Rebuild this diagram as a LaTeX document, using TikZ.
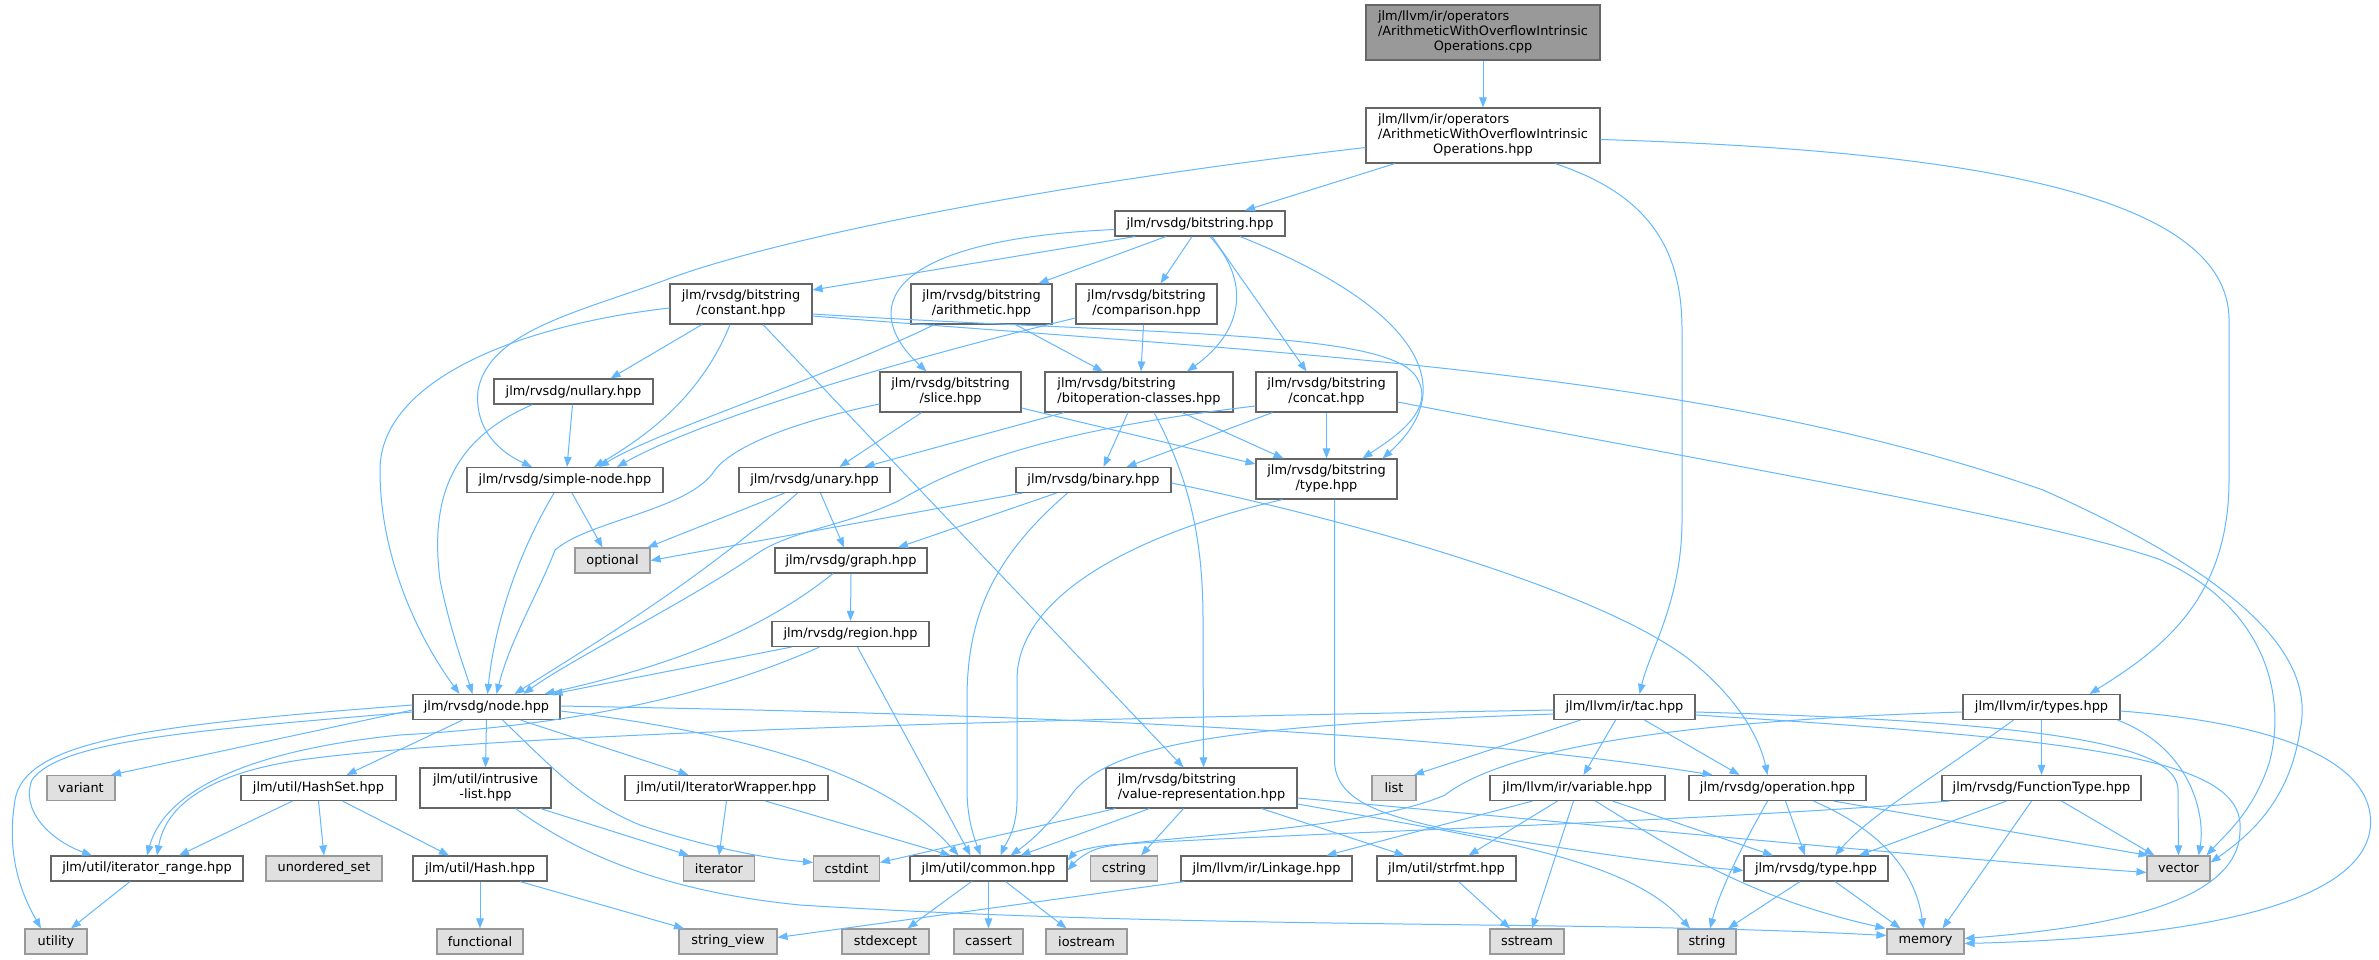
\documentclass[tikz,border=0pt]{standalone}
\usepackage{fontspec}
\setmainfont{DejaVu Sans}
\usetikzlibrary{arrows.meta}
\definecolor{edgec}{HTML}{63B8FF}
\definecolor{bordc}{HTML}{666666}
\definecolor{sysb}{HTML}{999999}
\definecolor{sysf}{HTML}{E0E0E0}
\definecolor{rootf}{HTML}{999999}
\newcommand{\twol}[2]{\begin{tabular}{@{}l@{}}#1\\\multicolumn{1}{@{}c@{}}{#2}\end{tabular}}
\newcommand{\threel}[3]{\begin{tabular}{@{}l@{}}#1\\#2\\\multicolumn{1}{@{}c@{}}{#3}\end{tabular}}
\begin{document}
\begin{tikzpicture}[x=1pt,y=-1pt,
 filebox/.style={draw=bordc, fill=white, line width=1.1pt, inner sep=0pt, font=\fontsize{12.9}{15}\selectfont, text=black, minimum height=25pt},
 sysbox/.style={filebox, draw=sysb, fill=sysf},
 rootbox/.style={filebox, fill=rootf},
 edge/.style={draw=edgec, line width=1.0pt, -{Triangle[length=10pt,width=7.5pt]}}]
\useasboundingbox (0,0) rectangle (2379,960);
\fill[white] (0,0) rectangle (2379,960);
% nodes
\node[rootbox, minimum width=234pt, minimum height=55pt] (cpp) at (1483,32.5) {\threel{jlm/llvm/ir/operators}{/ArithmeticWithOverflowIntrinsic}{Operations.cpp}};
\node[filebox, minimum width=234pt, minimum height=55pt] (hpp) at (1483,135.5) {\threel{jlm/llvm/ir/operators}{/ArithmeticWithOverflowIntrinsic}{Operations.hpp}};
\node[filebox, minimum width=170pt] (bits) at (1200,223.5) {jlm/rvsdg/bitstring.hpp};
\node[filebox, minimum width=142pt, minimum height=40pt] (bconst) at (741,304) {\twol{jlm/rvsdg/bitstring}{/constant.hpp}};
\node[filebox, minimum width=141pt, minimum height=40pt] (barith) at (981.5,304) {\twol{jlm/rvsdg/bitstring}{/arithmetic.hpp}};
\node[filebox, minimum width=141pt, minimum height=40pt] (bcomp) at (1146.5,304) {\twol{jlm/rvsdg/bitstring}{/comparison.hpp}};
\node[filebox, minimum width=141pt, minimum height=40pt] (bslice) at (950.5,392) {\twol{jlm/rvsdg/bitstring}{/slice.hpp}};
\node[filebox, minimum width=188pt, minimum height=40pt] (bitop) at (1139,392) {\twol{jlm/rvsdg/bitstring}{/bitoperation-classes.hpp}};
\node[filebox, minimum width=141pt, minimum height=40pt] (bconcat) at (1326.5,392) {\twol{jlm/rvsdg/bitstring}{/concat.hpp}};
\node[filebox, minimum width=159pt] (nullary) at (573.5,391.5) {jlm/rvsdg/nullary.hpp};
\node[filebox, minimum width=196pt] (simple) at (565,480) {jlm/rvsdg/simple-node.hpp};
\node[filebox, minimum width=151pt] (unary) at (814.5,480) {jlm/rvsdg/unary.hpp};
\node[filebox, minimum width=155pt] (binary) at (1093.5,480) {jlm/rvsdg/binary.hpp};
\node[filebox, minimum width=141pt, minimum height=40pt] (btype) at (1326.5,479) {\twol{jlm/rvsdg/bitstring}{/type.hpp}};
\node[sysbox, minimum width=75pt] (optional) at (612.5,560.5) {optional};
\node[filebox, minimum width=152pt] (graph) at (851,560.5) {jlm/rvsdg/graph.hpp};
\node[filebox, minimum width=157pt] (region) at (850.5,634) {jlm/rvsdg/region.hpp};
\node[filebox, minimum width=147pt] (rnode) at (486.5,707) {jlm/rvsdg/node.hpp};
\node[filebox, minimum width=141pt] (tac) at (1624.5,707) {jlm/llvm/ir/tac.hpp};
\node[filebox, minimum width=157pt] (types) at (2041.5,707) {jlm/llvm/ir/types.hpp};
\node[sysbox, minimum width=68pt] (variant) at (81,788) {variant};
\node[filebox, minimum width=155pt] (hashset) at (318.5,788) {jlm/util/HashSet.hpp};
\node[filebox, minimum width=131pt, minimum height=40pt] (intr) at (485.5,788) {\twol{jlm/util/intrusive}{-list.hpp}};
\node[filebox, minimum width=203pt] (itw) at (726.5,788) {jlm/util/IteratorWrapper.hpp};
\node[filebox, minimum width=191pt, minimum height=40pt] (valrep) at (1201.5,788) {\twol{jlm/rvsdg/bitstring}{/value-representation.hpp}};
\node[sysbox, minimum width=44pt] (list) at (1394,788) {list};
\node[filebox, minimum width=175pt] (variable) at (1577.5,788) {jlm/llvm/ir/variable.hpp};
\node[filebox, minimum width=177pt] (operation) at (1777.5,788) {jlm/rvsdg/operation.hpp};
\node[filebox, minimum width=199pt] (functype) at (2041.5,788) {jlm/rvsdg/FunctionType.hpp};
\node[filebox, minimum width=192pt] (itrange) at (147,868.5) {jlm/util/iterator\_range.hpp};
\node[sysbox, minimum width=116pt] (unordered) at (324,868.5) {unordered\_set};
\node[filebox, minimum width=134pt] (hash) at (480,868.5) {jlm/util/Hash.hpp};
\node[sysbox, minimum width=71pt] (iterator) at (719,868.5) {iterator};
\node[sysbox, minimum width=66pt] (cstdint) at (846.5,868.5) {cstdint};
\node[filebox, minimum width=157pt] (common) at (988.5,868.5) {jlm/util/common.hpp};
\node[sysbox, minimum width=67pt] (cstring) at (1124,868.5) {cstring};
\node[filebox, minimum width=171pt] (linkage) at (1266.5,868.5) {jlm/llvm/ir/Linkage.hpp};
\node[filebox, minimum width=139pt] (strfmt) at (1446.5,868.5) {jlm/util/strfmt.hpp};
\node[filebox, minimum width=144pt] (rtype) at (1816,868.5) {jlm/rvsdg/type.hpp};
\node[sysbox, minimum width=63pt] (vector) at (2178.5,868.5) {vector};
\node[sysbox, minimum width=62pt] (utility) at (56,941.5) {utility};
\node[sysbox, minimum width=86pt] (functional) at (480,941.5) {functional};
\node[sysbox, minimum width=98pt] (strview) at (728,941.5) {string\_view};
\node[sysbox, minimum width=87pt] (stdexcept) at (885.5,941.5) {stdexcept};
\node[sysbox, minimum width=69pt] (cassert) at (988.5,941.5) {cassert};
\node[sysbox, minimum width=81pt] (iostream) at (1086.5,941.5) {iostream};
\node[sysbox, minimum width=74pt] (sstream) at (1527,941.5) {sstream};
\node[sysbox, minimum width=58pt] (string) at (1707,941.5) {string};
\node[sysbox, minimum width=77pt] (memory) at (1925.5,941.5) {memory};
% edges: top
\draw[edge] (cpp.south) -- (hpp.north);
\draw[edge] ([yshift=-12pt]hpp.west) .. controls (1000,190) and (760,245) .. (671,278) .. controls (580,312) and (490,330) .. (478,390) .. controls (474,430) and (500,452) .. ([xshift=-33pt]simple.north);
\draw[edge] ([xshift=-88pt]hpp.south) -- ([xshift=45pt]bits.north);
\draw[edge] ([xshift=72pt]hpp.south) .. controls (1650,195) and (1682,250) .. (1682,330) -- (1682,520) .. controls (1682,600) and (1650,650) .. ([xshift=15pt]tac.north);
\draw[edge] ([yshift=-4pt]hpp.east) .. controls (1950,150) and (2229,190) .. (2229,320) -- (2229,480) .. controls (2229,600) and (2160,650) .. ([xshift=48pt]types.north);
% bitstring.hpp
\draw[edge] ([xshift=-65pt]bits.south) -- ([yshift=14pt]bconst.east);
\draw[edge] ([xshift=-34pt]bits.south) -- ([xshift=57pt]barith.north);
\draw[edge] ([xshift=-8pt]bits.south) -- ([xshift=14pt]bcomp.north);
\draw[edge] ([yshift=-6pt]bits.west) .. controls (880,240) and (860,310) .. ([xshift=-24pt]bslice.north);
\draw[edge] ([xshift=10pt]bits.south) .. controls (1250,280) and (1245,330) .. ([xshift=48pt]bitop.north);
\draw[edge] ([xshift=12pt]bits.south) -- ([xshift=-20pt]bconcat.north);
\draw[edge] ([xshift=40pt]bits.south) .. controls (1400,300) and (1470,380) .. ([xshift=56pt]btype.north);
% constant
\draw[edge] ([xshift=-39pt]bconst.south) -- ([xshift=37pt]nullary.north);
\draw[edge] ([xshift=-11pt]bconst.south) .. controls (700,400) and (640,440) .. ([xshift=29pt]simple.north);
\draw[edge] ([yshift=-4pt]bconst.west) .. controls (520,325) and (380,380) .. (380,470) .. controls (380,560) and (420,640) .. ([xshift=-27pt]rnode.north);
\draw[edge] ([xshift=22pt]bconst.south) -- ([xshift=-18pt]valrep.north);
\draw[edge] ([yshift=-10pt]bconst.east) .. controls (1150,335) and (1380,330) .. (1415,375) .. controls (1440,410) and (1390,440) .. ([xshift=36pt]btype.north);
\draw[edge] ([yshift=-12pt]bconst.east) .. controls (1300,355) and (1700,370) .. (2043,490) .. controls (2200,560) and (2320,640) .. (2300,730) .. controls (2290,800) and (2250,835) .. ([yshift=6pt]vector.east);
% arithmetic, comparison
\draw[edge] ([xshift=34pt]barith.south) -- ([xshift=-36pt]bitop.north);
\draw[edge] ([xshift=-47pt]barith.south) .. controls (820,380) and (660,430) .. ([xshift=34pt]simple.north);
\draw[edge] ([xshift=-3pt]bcomp.south) -- ([xshift=2pt]bitop.north);
\draw[edge] ([yshift=-14pt]bcomp.west) .. controls (900,360) and (700,420) .. ([xshift=52pt]simple.north);
% slice
\draw[edge] ([xshift=-29pt]bslice.south) -- ([xshift=25pt]unary.north);
\draw[edge] ([yshift=-16pt]bslice.east) -- ([yshift=15pt]btype.west);
\draw[edge] ([yshift=-12pt]bslice.west) .. controls (780,425) and (730,450) .. (715,470) .. controls (690,510) and (590,520) .. (555,550) .. controls (540,590) and (510,640) .. ([xshift=10pt]rnode.north);
% bitoperation-classes
\draw[edge] ([xshift=-75pt]bitop.south) -- ([xshift=50pt]unary.north);
\draw[edge] ([xshift=-11pt]bitop.south) -- ([xshift=10pt]binary.north);
\draw[edge] ([xshift=43pt]bitop.south) -- ([xshift=-43pt]btype.north);
\draw[edge] ([xshift=15pt]bitop.south) .. controls (1190,480) and (1203,540) .. (1203,620) -- ([xshift=2pt]valrep.north);
% concat
\draw[edge] ([xshift=-54pt]bconcat.south) -- ([xshift=33pt]binary.north);
\draw[edge] (bconcat.south) -- (btype.north);
\draw[edge] ([yshift=-14pt]bconcat.west) .. controls (1050,430) and (960,465) .. (900,500) .. controls (850,525) and (790,530) .. (755,555) .. controls (690,600) and (570,660) .. ([xshift=37pt]rnode.north);
\draw[edge] ([yshift=-10pt]bconcat.east) .. controls (1700,460) and (2050,520) .. (2161,560) .. controls (2270,610) and (2285,700) .. (2270,760) .. controls (2255,810) and (2225,835) .. ([xshift=28pt]vector.north);
% nullary, simple, unary, binary
\draw[edge] ([xshift=-1pt]nullary.south) -- ([xshift=2pt]simple.north);
\draw[edge] ([xshift=-41pt]nullary.south) .. controls (450,440) and (430,500) .. (440,580) .. controls (450,630) and (465,670) .. ([xshift=-14pt]rnode.north);
\draw[edge] ([xshift=7pt]simple.south) -- ([xshift=-10pt]optional.north);
\draw[edge] ([xshift=-11pt]simple.south) .. controls (520,550) and (495,620) .. ([xshift=1pt]rnode.north);
\draw[edge] ([xshift=-30pt]unary.south) -- ([xshift=35pt]optional.north);
\draw[edge] ([xshift=6pt]unary.south) -- ([xshift=-7pt]graph.north);
\draw[edge] ([xshift=-17pt]unary.south) .. controls (700,580) and (600,640) .. ([xshift=28pt]rnode.north);
\draw[edge] ([xshift=-71pt]binary.south) -- (optional.east);
\draw[edge] ([xshift=-37pt]binary.south) -- ([xshift=47pt]graph.north);
\draw[edge] ([xshift=-26pt]binary.south) .. controls (990,560) and (967,620) .. (967,700) -- (967,790) .. controls (967,820) and (975,840) .. ([xshift=-8pt]common.north);
\draw[edge] ([yshift=-3pt]binary.east) .. controls (1350,520) and (1600,590) .. (1690,660) .. controls (1740,700) and (1760,740) .. ([xshift=-10pt]operation.north);
% bitstring/type
\draw[edge] ([xshift=-44pt]btype.south) .. controls (1150,530) and (1017,590) .. (1017,680) -- (1017,800) .. controls (1017,830) and (1005,845) .. ([xshift=12pt]common.north);
\draw[edge] ([xshift=8pt]btype.south) -- (1334.5,760) .. controls (1334.5,800) and (1380,815) .. (1450,830) .. controls (1600,855) and (1680,865) .. ([yshift=-2pt]rtype.west);
% graph, region
\draw[edge] (graph.south) -- (region.north);
\draw[edge] ([xshift=-18pt]graph.south) .. controls (750,640) and (650,670) .. ([xshift=58pt]rnode.north);
\draw[edge] ([xshift=-59pt]region.south) -- ([xshift=66pt]rnode.north);
\draw[edge] ([xshift=-31pt]region.south) .. controls (700,700) and (560,726) .. (400,735) .. controls (250,750) and (165,790) .. (itrange.north);
\draw[edge] ([xshift=7pt]region.south) -- ([xshift=-18pt]common.north);
% node.hpp
\draw[edge] ([yshift=-3pt]rnode.west) -- ([xshift=30pt]variant.north);
\draw[edge] ([xshift=-24pt]rnode.south) -- ([xshift=28pt]hashset.north);
\draw[edge] (rnode.south) -- (intr.north);
\draw[edge] ([xshift=34pt]rnode.south) -- ([xshift=-38pt]itw.north);
\draw[edge] ([yshift=-5pt]rnode.west) .. controls (200,730) and (60,740) .. (32,780) .. controls (20,810) and (50,840) .. ([xshift=-55pt]itrange.north);
\draw[edge] ([yshift=2pt]rnode.west) .. controls (150,725) and (25,740) .. (15,800) .. controls (5,860) and (25,900) .. ([xshift=-15pt]utility.north);
\draw[edge] ([xshift=16pt]rnode.south) .. controls (550,765) and (580,800) .. (640,825) .. controls (700,845) and (760,858) .. ([yshift=6pt]cstdint.west);
\draw[edge] ([yshift=-4pt]rnode.east) .. controls (800,740) and (900,790) .. ([xshift=-30pt]common.north);
\draw[edge] ([yshift=1pt]rnode.east) .. controls (900,712) and (1400,725) .. ([xshift=-65pt]operation.north);
% intrusive-list, HashSet, Hash, iterator_range, IteratorWrapper
\draw[edge] ([xshift=55pt]intr.south) -- ([xshift=-30pt]iterator.north);
\draw[edge] ([xshift=30pt]intr.south) .. controls (600,870) and (700,895) .. (800,905) .. controls (1200,930) and (1600,920) .. ([yshift=6pt]memory.west);
\draw[edge] ([xshift=-26pt]hashset.south) -- ([xshift=32pt]itrange.north);
\draw[edge] (hashset.south) -- (unordered.north);
\draw[edge] ([xshift=24pt]hashset.south) -- ([xshift=-31pt]hash.north);
\draw[edge] (hash.south) -- (functional.north);
\draw[edge] ([xshift=40pt]hash.south) -- ([xshift=-44pt]strview.north);
\draw[edge] ([xshift=-17pt]itrange.south) -- ([xshift=15pt]utility.north);
\draw[edge] (itw.south) -- (iterator.north);
\draw[edge] ([xshift=39pt]itw.south) -- ([xshift=-38pt]common.north);
% value-representation
\draw[edge] ([xshift=-86pt]valrep.south) -- ([yshift=6pt]cstdint.east);
\draw[edge] ([xshift=-52pt]valrep.south) -- ([xshift=32pt]common.north);
\draw[edge] ([xshift=-18pt]valrep.south) -- ([xshift=17pt]cstring.north);
\draw[edge] ([xshift=60pt]valrep.south) -- ([xshift=-42pt]strfmt.north);
\draw[edge] ([yshift=-10pt]valrep.east) .. controls (1600,825) and (1900,855) .. ([yshift=-4pt]vector.west);
\draw[edge] ([yshift=-16pt]valrep.east) .. controls (1500,840) and (1630,860) .. ([xshift=-17pt]string.north);
% tac
\draw[edge] ([xshift=-44pt]tac.south) -- ([xshift=20pt]list.north);
\draw[edge] ([xshift=-9pt]tac.south) -- ([xshift=6pt]variable.north);
\draw[edge] ([xshift=20pt]tac.south) -- ([xshift=-38pt]operation.north);
\draw[edge] ([yshift=-3pt]tac.west) .. controls (1100,718) and (500,732) .. (300,760) .. controls (200,775) and (165,810) .. ([xshift=10pt]itrange.north);
\draw[edge] ([yshift=-7pt]tac.west) .. controls (1250,725) and (1120,740) .. (1075,790) .. controls (1060,810) and (1040,835) .. ([xshift=22pt]common.north);
\draw[edge] ([yshift=-5pt]tac.east) .. controls (2050,722) and (2178,745) .. (2178,790) -- (vector.north);
\draw[edge] ([yshift=-8pt]tac.east) .. controls (2100,740) and (2245,760) .. (2240,830) .. controls (2240,905) and (2100,928) .. ([yshift=3pt]memory.east);
% types
\draw[edge] ([yshift=-5pt]types.west) .. controls (1700,720) and (1510,745) .. (1445,795) .. controls (1360,832) and (1150,836) .. (1100,848) .. controls (1085,852) and (1075,862) .. ([yshift=-2pt]common.east);
\draw[edge] ([xshift=-28pt]types.south) .. controls (1930,780) and (1870,815) .. ([xshift=19pt]rtype.north);
\draw[edge] (types.south) -- (functype.north);
\draw[edge] ([xshift=76pt]types.south) .. controls (2195,750) and (2205,820) .. ([xshift=20pt]vector.north);
\draw[edge] ([yshift=-4pt]types.east) .. controls (2300,725) and (2378,770) .. (2370,830) .. controls (2355,925) and (2100,940) .. ([yshift=-2pt]memory.east);
% variable
\draw[edge] ([xshift=-45pt]variable.south) -- ([xshift=60pt]linkage.north);
\draw[edge] ([xshift=-20pt]variable.south) -- ([xshift=22pt]strfmt.north);
\draw[edge] ([xshift=-4pt]variable.south) -- ([xshift=5pt]sstream.north);
\draw[edge] ([xshift=18pt]variable.south) .. controls (1690,860) and (1760,900) .. ([xshift=-40pt]memory.north);
\draw[edge] ([xshift=35pt]variable.south) -- ([xshift=-43pt]rtype.north);
% operation
\draw[edge] ([xshift=-10pt]operation.south) .. controls (1740,850) and (1720,890) .. ([xshift=3pt]string.north);
\draw[edge] ([xshift=8pt]operation.south) -- ([xshift=-11pt]rtype.north);
\draw[edge] ([xshift=36pt]operation.south) .. controls (1880,830) and (1915,870) .. ([xshift=-2pt]memory.north);
\draw[edge] ([xshift=56pt]operation.south) -- ([xshift=-30pt]vector.north);
% FunctionType
\draw[edge] ([xshift=-92pt]functype.south) .. controls (1700,822) and (1250,835) .. (1110,845) .. controls (1090,847) and (1075,852) .. ([yshift=8pt]common.east);
\draw[edge] ([xshift=-35pt]functype.south) -- ([xshift=43pt]rtype.north);
\draw[edge] ([xshift=-10pt]functype.south) -- ([xshift=17pt]memory.north);
\draw[edge] ([xshift=20pt]functype.south) -- ([xshift=-24pt]vector.north);
% bottom row
\draw[edge] ([xshift=-82pt]linkage.south) -- ([yshift=4pt]strview.east);
\draw[edge] ([xshift=12pt]strfmt.south) -- ([xshift=-17pt]sstream.north);
\draw[edge] ([xshift=-16pt]rtype.south) -- ([xshift=21pt]string.north);
\draw[edge] ([xshift=19pt]rtype.south) -- ([xshift=-25pt]memory.north);
\draw[edge] ([xshift=-17pt]common.south) -- ([xshift=22pt]stdexcept.north);
\draw[edge] (common.south) -- (cassert.north);
\draw[edge] ([xshift=17pt]common.south) -- ([xshift=-20pt]iostream.north);
\end{tikzpicture}
\end{document}
